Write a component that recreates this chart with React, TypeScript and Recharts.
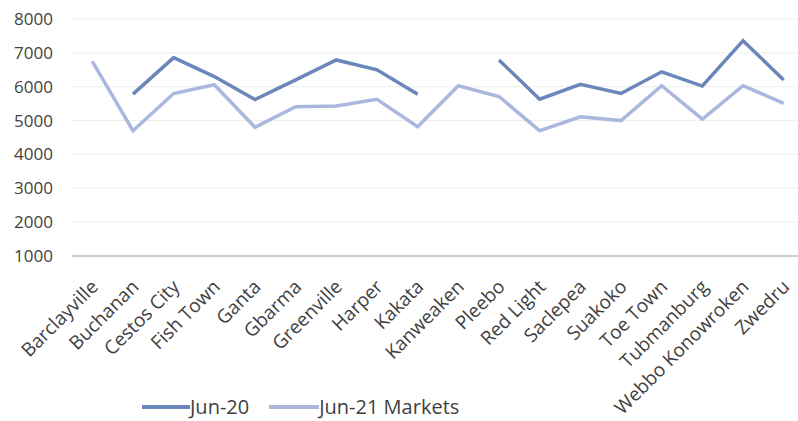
import React from "react";
import { LineChart, Line, XAxis, YAxis, CartesianGrid, Legend } from "recharts";

const markets = [
  "Barclayville", "Buchanan", "Cestos City", "Fish Town", "Ganta", "Gbarma",
  "Greenville", "Harper", "Kakata", "Kanweaken", "Pleebo", "Red Light",
  "Saclepea", "Suakoko", "Toe Town", "Tubmanburg", "Webbo Konowroken", "Zwedru",
];
const jun20 = [
  null, 5780, 6860, 6300, 5620, 6200, 6790, 6500, 5780, null, 6790, 5630,
  6070, 5800, 6440, 6020, 7360, 6200,
];
const jun21 = [
  6750, 4700, 5800, 6060, 4800, 5410, 5430, 5630, 4820, 6030, 5710, 4700,
  5110, 5000, 6030, 5040, 6030, 5510,
];
const yTicks = [1000, 2000, 3000, 4000, 5000, 6000, 7000, 8000];

const DARK = "#6b86bb";
const LIGHT = "#aab8de";
const TEXT = "#3f3f3f";

const data = markets.map((m, i) => ({ market: m, jun20: jun20[i], jun21: jun21[i] }));

const XTick = (props: any) => {
  const { x, y, payload } = props;
  const ax = x + 7;
  const ay = y + 24;
  return (
    <text
      x={ax}
      y={ay}
      transform={`rotate(-45, ${ax}, ${ay})`}
      textAnchor="end"
      fontSize={19}
      fill={TEXT}
      fontFamily="'Open Sans', sans-serif"
    >
      {payload.value}
    </text>
  );
};

const LegendBox = () => (
  <div
    style={{
      display: "flex",
      alignItems: "center",
      height: 28,
      paddingLeft: 126,
      fontFamily: "'Open Sans', sans-serif",
      fontSize: 20,
      lineHeight: "28px",
      color: TEXT,
    }}
  >
    <span style={{ display: "inline-block", width: 48, height: 4, background: DARK }} />
    <span style={{ marginRight: 20 }}>Jun-20</span>
    <span style={{ display: "inline-block", width: 50, height: 4, background: LIGHT }} />
    <span>Jun-21 Markets</span>
  </div>
);

export default function App() {
  return (
    <div style={{ width: 798, height: 421, overflow: "hidden", background: "#fff" }}>
      <style>{`body { margin: 0; }`}</style>
      <LineChart width={806} height={421} data={data} margin={{ top: 19, right: 2, left: 16, bottom: 0 }}>
        <CartesianGrid vertical={false} stroke="#eeeeee" />
        <XAxis
          dataKey="market"
          interval={0}
          tickLine={false}
          axisLine={{ stroke: "#bfbfbf", strokeWidth: 1.5 }}
          tick={<XTick />}
          height={137}
          padding={{ left: 20.3, right: 20.3 }}
        />
        <YAxis
          width={56}
          domain={[1000, 8000]}
          ticks={yTicks}
          axisLine={false}
          tickLine={false}
          tickMargin={13}
          tick={{ fontSize: 17, fill: TEXT, fontFamily: "'Open Sans', sans-serif" }}
        />
        <Legend verticalAlign="bottom" content={<LegendBox />} wrapperStyle={{ height: 28 }} />
        <Line type="linear" dataKey="jun20" stroke={DARK} strokeWidth={3.5} dot={false} isAnimationActive={false} />
        <Line type="linear" dataKey="jun21" stroke={LIGHT} strokeWidth={3.5} dot={false} isAnimationActive={false} />
      </LineChart>
    </div>
  );
}
